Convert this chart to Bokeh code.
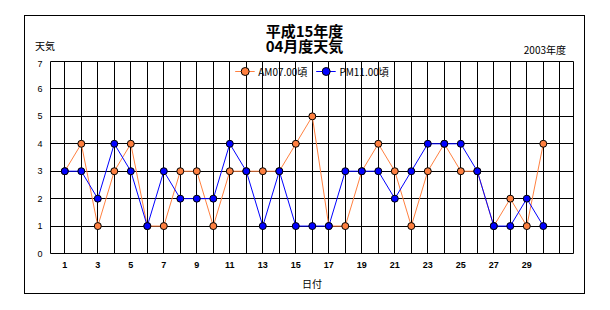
from bokeh.plotting import figure
from bokeh.models import (ColumnDataSource, FixedTicker, Range1d, Legend, LegendItem, Div)
from bokeh.layouts import column
from bokeh.embed import file_html
from bokeh.resources import INLINE

days = list(range(1, 31))
am_values = [3, 4, 1, 3, 4, 1, 1, 3, 3, 1, 3, 3, 3, 3, 4, 5, 1, 1, 3, 4, 3, 1, 3, 4, 3, 3, 1, 2, 1, 4]
pm_values = [3, 3, 2, 4, 3, 1, 3, 2, 2, 2, 4, 3, 1, 3, 1, 1, 1, 3, 3, 3, 2, 3, 4, 4, 4, 3, 1, 1, 2, 1]
x_tick_days = list(range(1, 30, 2))
grid_days = list(range(1, 32))
y_ticks = list(range(0, 8))
title_lines = ["平成15年度", "04月度天気"]
y_title = "天気"
year_note = "2003年度"
x_title = "日付"
series_names = ["AM07.00頃", "PM11.00頃"]
series_colors = ["#FF8040", "#0000FF"]

JP = "Noto Sans CJK JP"

src = ColumnDataSource(dict(day=days, am=am_values, pm=pm_values))

p = figure(width=559, height=233, output_backend="svg", toolbar_location=None,
           x_range=Range1d(0.133, 31.83), y_range=Range1d(0, 7),
           min_border_left=25, min_border_right=11, min_border_top=1, min_border_bottom=38)
p.background_fill_color = "white"
p.border_fill_color = "white"
p.outline_line_color = "black"
p.outline_line_width = 1

# axes
p.xaxis.ticker = FixedTicker(ticks=x_tick_days)
p.yaxis.ticker = FixedTicker(ticks=y_ticks)
for ax in (p.xaxis[0], p.yaxis[0]):
    ax.axis_line_color = None
    ax.major_tick_line_color = None
    ax.minor_tick_line_color = None
    ax.major_tick_in = 0
    ax.major_tick_out = 0
    ax.major_label_text_color = "black"
    ax.axis_label_text_color = "black"
p.xaxis.major_label_text_font = "Liberation Sans"
p.xaxis.major_label_text_font_style = "bold"
p.xaxis.major_label_text_font_size = "9px"
p.xaxis.major_label_standoff = 8
p.yaxis.major_label_text_font = "Liberation Sans"
p.yaxis.major_label_text_font_size = "9px"
p.yaxis.major_label_standoff = 8
p.xaxis.axis_label = x_title
p.xaxis.axis_label_text_font = JP
p.xaxis.axis_label_text_font_style = "normal"
p.xaxis.axis_label_text_font_size = "10px"
p.xaxis.axis_label_standoff = 5

# grid
p.xgrid.ticker = FixedTicker(ticks=grid_days)
p.ygrid.ticker = FixedTicker(ticks=y_ticks)
p.xgrid.grid_line_color = "black"
p.ygrid.grid_line_color = "black"
p.grid.level = "underlay"

# series
l1 = p.line("day", "am", source=src, line_color=series_colors[0], line_width=1)
s1 = p.scatter("day", "am", source=src, size=7, fill_color=series_colors[0], line_color="black", line_width=1)
l2 = p.line("day", "pm", source=src, line_color=series_colors[1], line_width=1)
s2 = p.scatter("day", "pm", source=src, size=7, fill_color=series_colors[1], line_color="black", line_width=1)

legend = Legend(items=[LegendItem(label=series_names[0], renderers=[l1, s1]),
                       LegendItem(label=series_names[1], renderers=[l2, s2])],
                location="top_center", orientation="horizontal",
                background_fill_alpha=0, border_line_color=None,
                margin=0, padding=5, spacing=8, glyph_width=20, glyph_height=20, label_standoff=4,
                label_text_font=JP, label_text_font_size="10px", label_text_color="black")
p.add_layout(legend, "center")

# header with the titles (HTML text)
font_css = f"font-family:'{JP}';color:black;position:absolute;white-space:nowrap;"
title_css = font_css + "left:0;width:559px;text-align:center;font-size:15px;font-weight:bold;line-height:15px;height:15px;"
header_html = (
    f'<div style="position:relative;width:559px;height:44px;margin:0;padding:0;">'
    f'<div style="{title_css}top:7px;">{title_lines[0]}</div>'
    f'<div style="{title_css}top:22px;">{title_lines[1]}</div>'
    f'<div style="{font_css}left:10px;top:24px;font-size:10px;line-height:12px;">{y_title}</div>'
    f'<div style="{font_css}right:18px;top:28px;font-size:10px;line-height:12px;">{year_note}</div>'
    f'</div>'
)
header = Div(text=header_html, width=559, height=44, margin=0)

layout = column(header, p, width=561, height=279, spacing=0, margin=(15, 0, 0, 24),
                styles={"border": "1px solid black", "background": "white"})

open("out.html", "w").write(file_html(layout, INLINE))
